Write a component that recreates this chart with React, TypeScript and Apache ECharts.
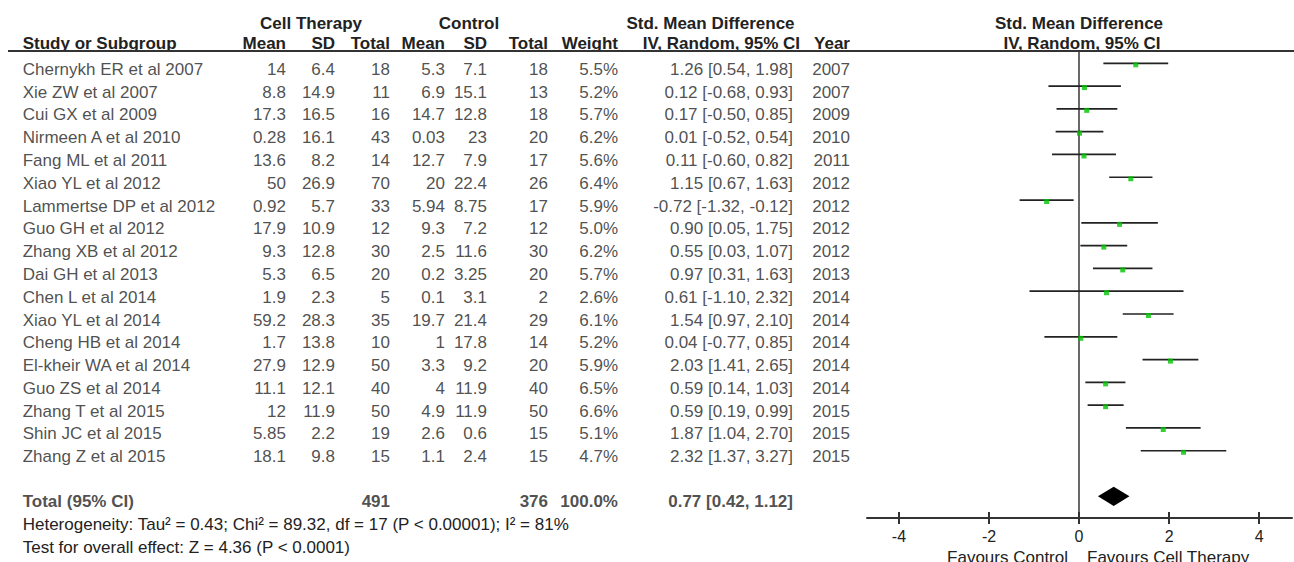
import React, { useEffect, useRef } from "react";
import * as echarts from "echarts";

// ---------- data ----------
const studies = [
  "Chernykh ER et al 2007", "Xie ZW et al 2007", "Cui GX et al 2009", "Nirmeen A et al 2010",
  "Fang ML et al 2011", "Xiao YL et al 2012", "Lammertse DP et al 2012", "Guo GH et al 2012",
  "Zhang XB et al 2012", "Dai GH et al 2013", "Chen L et al 2014", "Xiao YL et al 2014",
  "Cheng HB et al 2014", "El-kheir WA et al 2014", "Guo ZS et al 2014", "Zhang T et al 2015",
  "Shin JC et al 2015", "Zhang Z et al 2015",
];
const ctMean = ["14", "8.8", "17.3", "0.28", "13.6", "50", "0.92", "17.9", "9.3", "5.3", "1.9", "59.2", "1.7", "27.9", "11.1", "12", "5.85", "18.1"];
const ctSD = ["6.4", "14.9", "16.5", "16.1", "8.2", "26.9", "5.7", "10.9", "12.8", "6.5", "2.3", "28.3", "13.8", "12.9", "12.1", "11.9", "2.2", "9.8"];
const ctTotal = [18, 11, 16, 43, 14, 70, 33, 12, 30, 20, 5, 35, 10, 50, 40, 50, 19, 15];
const cMean = ["5.3", "6.9", "14.7", "0.03", "12.7", "20", "5.94", "9.3", "2.5", "0.2", "0.1", "19.7", "1", "3.3", "4", "4.9", "2.6", "1.1"];
const cSD = ["7.1", "15.1", "12.8", "23", "7.9", "22.4", "8.75", "7.2", "11.6", "3.25", "3.1", "21.4", "17.8", "9.2", "11.9", "11.9", "0.6", "2.4"];
const cTotal = [18, 13, 18, 20, 17, 26, 17, 12, 30, 20, 2, 29, 14, 20, 40, 50, 15, 15];
const weights = [5.5, 5.2, 5.7, 6.2, 5.6, 6.4, 5.9, 5.0, 6.2, 5.7, 2.6, 6.1, 5.2, 5.9, 6.5, 6.6, 5.1, 4.7];
const smd = [1.26, 0.12, 0.17, 0.01, 0.11, 1.15, -0.72, 0.90, 0.55, 0.97, 0.61, 1.54, 0.04, 2.03, 0.59, 0.59, 1.87, 2.32];
const ciLow = [0.54, -0.68, -0.50, -0.52, -0.60, 0.67, -1.32, 0.05, 0.03, 0.31, -1.10, 0.97, -0.77, 1.41, 0.14, 0.19, 1.04, 1.37];
const ciHigh = [1.98, 0.93, 0.85, 0.54, 0.82, 1.63, -0.12, 1.75, 1.07, 1.63, 2.32, 2.10, 0.85, 2.65, 1.03, 0.99, 2.70, 3.27];
const years = [2007, 2007, 2009, 2010, 2011, 2012, 2012, 2012, 2012, 2013, 2014, 2014, 2014, 2014, 2014, 2015, 2015, 2015];

const totalCT = 491;
const totalC = 376;
const totalWeight = 100.0;
const totalSmd = 0.77;
const totalLow = 0.42;
const totalHigh = 1.12;

const tau2 = 0.43;
const chi2 = 89.32;
const df = 17;
const pHet = "0.00001";
const i2 = 81;
const zVal = 4.36;
const pZ = "0.0001";

const xTicks = [-4, -2, 0, 2, 4];

// ---------- layout / style ----------
const FONT = "'Liberation Sans', Arial, Helvetica, sans-serif";
const TEXT = "#222";
const FS = 17;
const COL = {
  study: 22.7, ctMean: 286, ctSD: 335, ctTotal: 390, cMean: 445, cSD: 487,
  cTotal: 548, weight: 618, ci: 793, year: 850,
};
const Y_MIN = -0.54;
const Y_MAX = 19.95;
const TOTAL_ROW = studies.length + 1;

const fmtCI = (e: number, l: number, h: number) => `${e.toFixed(2)} [${l.toFixed(2)}, ${h.toFixed(2)}]`;

export default function App() {
  const ref = useRef<HTMLDivElement>(null);
  useEffect(() => {
    const chart = echarts.init(ref.current!, null, { renderer: "svg", width: 1294, height: 562 });

    const textSeries = (
      name: string, x: number, align: string, values: (string | number)[], rowOffset: number, bold: boolean, startRow = 0
    ) => ({
      name,
      type: "scatter",
      xAxisIndex: 2,
      yAxisIndex: 1,
      silent: true,
      symbolSize: 1,
      itemStyle: { color: "rgba(0,0,0,0)" },
      data: values.map((v, i) => [x, startRow + i, String(v)]),
      label: {
        show: true,
        position: "inside",
        align,
        verticalAlign: "middle",
        offset: [0, rowOffset],
        formatter: (p: any) => p.value[2],
        fontSize: FS,
        fontFamily: FONT,
        fontWeight: bold ? "bold" : "normal",
        color: TEXT,
      },
      z: 5,
    });

    const ROW_OFF = 6;
    const TOT_OFF = 5;

    const series: any[] = [
      {
        type: "custom",
        xAxisIndex: 0,
        yAxisIndex: 0,
        silent: true,
        data: studies.map((_, i) => [ciLow[i], ciHigh[i], i]),
        encode: { x: [0, 1], y: 2 },
        renderItem: (_p: any, api: any) => {
          const a = api.coord([api.value(0), api.value(2)]);
          const b = api.coord([api.value(1), api.value(2)]);
          return {
            type: "line",
            shape: { x1: a[0], y1: a[1], x2: b[0], y2: b[1] },
            style: { stroke: "#222", lineWidth: 1.7 },
          };
        },
        z: 3,
      },
      {
        type: "scatter",
        xAxisIndex: 0,
        yAxisIndex: 0,
        silent: true,
        symbol: "rect",
        symbolSize: 5,
        symbolOffset: [0, 1.5],
        itemStyle: { color: "#00c400" },
        data: smd.map((v, i) => [v, i]),
        z: 4,
      },
      {
        type: "custom",
        xAxisIndex: 0,
        yAxisIndex: 0,
        silent: true,
        data: [[totalLow, totalSmd, totalHigh, TOTAL_ROW]],
        encode: { x: [0, 2], y: 3 },
        renderItem: (_p: any, api: any) => {
          const L = api.coord([api.value(0), api.value(3)]);
          const C = api.coord([api.value(1), api.value(3)]);
          const R = api.coord([api.value(2), api.value(3)]);
          const h = 9.6;
          return {
            type: "polygon",
            shape: { points: [[L[0], C[1]], [C[0], C[1] - h], [R[0], C[1]], [C[0], C[1] + h]] },
            style: { fill: "#000" },
          };
        },
        z: 4,
      },
      textSeries("study", COL.study, "left", studies, ROW_OFF, false),
      textSeries("ctMean", COL.ctMean, "right", ctMean, ROW_OFF, false),
      textSeries("ctSD", COL.ctSD, "right", ctSD, ROW_OFF, false),
      textSeries("ctTotal", COL.ctTotal, "right", ctTotal, ROW_OFF, false),
      textSeries("cMean", COL.cMean, "right", cMean, ROW_OFF, false),
      textSeries("cSD", COL.cSD, "right", cSD, ROW_OFF, false),
      textSeries("cTotal", COL.cTotal, "right", cTotal, ROW_OFF, false),
      textSeries("weight", COL.weight, "right", weights.map((w) => `${w.toFixed(1)}%`), ROW_OFF, false),
      textSeries("ci", COL.ci, "right", smd.map((e, i) => fmtCI(e, ciLow[i], ciHigh[i])), ROW_OFF, false),
      textSeries("year", COL.year, "right", years, ROW_OFF, false),
      textSeries("tStudy", COL.study, "left", ["Total (95% CI)"], TOT_OFF, true, TOTAL_ROW),
      textSeries("tCT", COL.ctTotal, "right", [totalCT], TOT_OFF, true, TOTAL_ROW),
      textSeries("tC", COL.cTotal, "right", [totalC], TOT_OFF, true, TOTAL_ROW),
      textSeries("tW", COL.weight, "right", [`${totalWeight.toFixed(1)}%`], TOT_OFF, true, TOTAL_ROW),
      textSeries("tCI", COL.ci, "right", [fmtCI(totalSmd, totalLow, totalHigh)], TOT_OFF, true, TOTAL_ROW),
    ];

    const txt = (text: string, x: number, y: number, align: string, bold = false, size = FS) => ({
      type: "text",
      x,
      y,
      silent: true,
      style: {
        text,
        fill: TEXT,
        fontSize: size,
        fontFamily: FONT,
        fontWeight: bold ? "bold" : "normal",
        align,
        textAlign: align,
        verticalAlign: "middle",
        textVerticalAlign: "middle",
      },
    });

    const H1 = 23.5;
    const H2 = 43.5;
    const graphic: any[] = [
      txt("Cell Therapy", 311, H1, "center", true),
      txt("Control", 469, H1, "center", true),
      txt("Std. Mean Difference", 710.5, H1, "center", true),
      txt("Std. Mean Difference", 1079, H1, "center", true),
      txt("Study or Subgroup", COL.study, H2, "left", true),
      txt("Mean", COL.ctMean, H2, "right", true),
      txt("SD", COL.ctSD, H2, "right", true),
      txt("Total", COL.ctTotal, H2, "right", true),
      txt("Mean", COL.cMean, H2, "right", true),
      txt("SD", COL.cSD, H2, "right", true),
      txt("Total", COL.cTotal, H2, "right", true),
      txt("Weight", COL.weight, H2, "right", true),
      txt("IV, Random, 95% CI", 800, H2, "right", true),
      txt("Year", COL.year, H2, "right", true),
      txt("IV, Random, 95% CI", 1082, H2, "center", true),
      {
        type: "line",
        silent: true,
        shape: { x1: 8, y1: 51, x2: 1294, y2: 51 },
        style: { stroke: "#333", lineWidth: 2 },
        z: 10,
      },
      txt(`Heterogeneity: Tau² = ${tau2.toFixed(2)}; Chi² = ${chi2.toFixed(2)}, df = ${df} (P < ${pHet}); I² = ${i2}%`, COL.study, 524, "left"),
      txt(`Test for overall effect: Z = ${zVal.toFixed(2)} (P < ${pZ})`, COL.study, 547, "left"),
      txt("Favours Control", 1068, 557, "right"),
      txt("Favours Cell Therapy", 1087, 557, "left"),
    ];

    chart.setOption({
      animation: false,
      backgroundColor: "#fff",
      grid: [
        { left: 867, right: 2, top: 51, bottom: 44 },
        { left: 0, width: 1294, top: 51, bottom: 44 },
      ],
      xAxis: [
        {
          gridIndex: 0,
          type: "value",
          min: -4.71,
          max: 4.73,
          axisLine: { show: true, onZero: false, lineStyle: { color: "#333", width: 2 } },
          axisTick: { show: true, length: 6, customValues: xTicks, lineStyle: { color: "#333", width: 2 } },
          axisLabel: { show: true, customValues: xTicks, margin: 10, fontSize: 16, color: TEXT, fontFamily: FONT },
          splitLine: { show: false },
        },
        {
          gridIndex: 0,
          type: "value",
          position: "bottom",
          min: -4.71,
          max: 4.73,
          axisLine: { show: false, onZero: false },
          axisTick: { show: true, inside: true, length: 6, customValues: xTicks, lineStyle: { color: "#333", width: 2 } },
          axisLabel: { show: false },
          splitLine: { show: false },
        },
        { gridIndex: 1, type: "value", min: 0, max: 1294, show: false },
      ],
      yAxis: [
        {
          gridIndex: 0,
          type: "value",
          min: Y_MIN,
          max: Y_MAX,
          inverse: true,
          axisLine: { show: true, onZero: true, onZeroAxisIndex: 0, lineStyle: { color: "#444", width: 1.6 } },
          axisTick: { show: false },
          axisLabel: { show: false },
          splitLine: { show: false },
        },
        { gridIndex: 1, type: "value", min: Y_MIN, max: Y_MAX, inverse: true, show: false },
      ],
      series,
      graphic,
    });
    return () => chart.dispose();
  }, []);
  return <div ref={ref} style={{ position: "absolute", left: 0, top: 0, width: 1294, height: 562 }} />;
}
